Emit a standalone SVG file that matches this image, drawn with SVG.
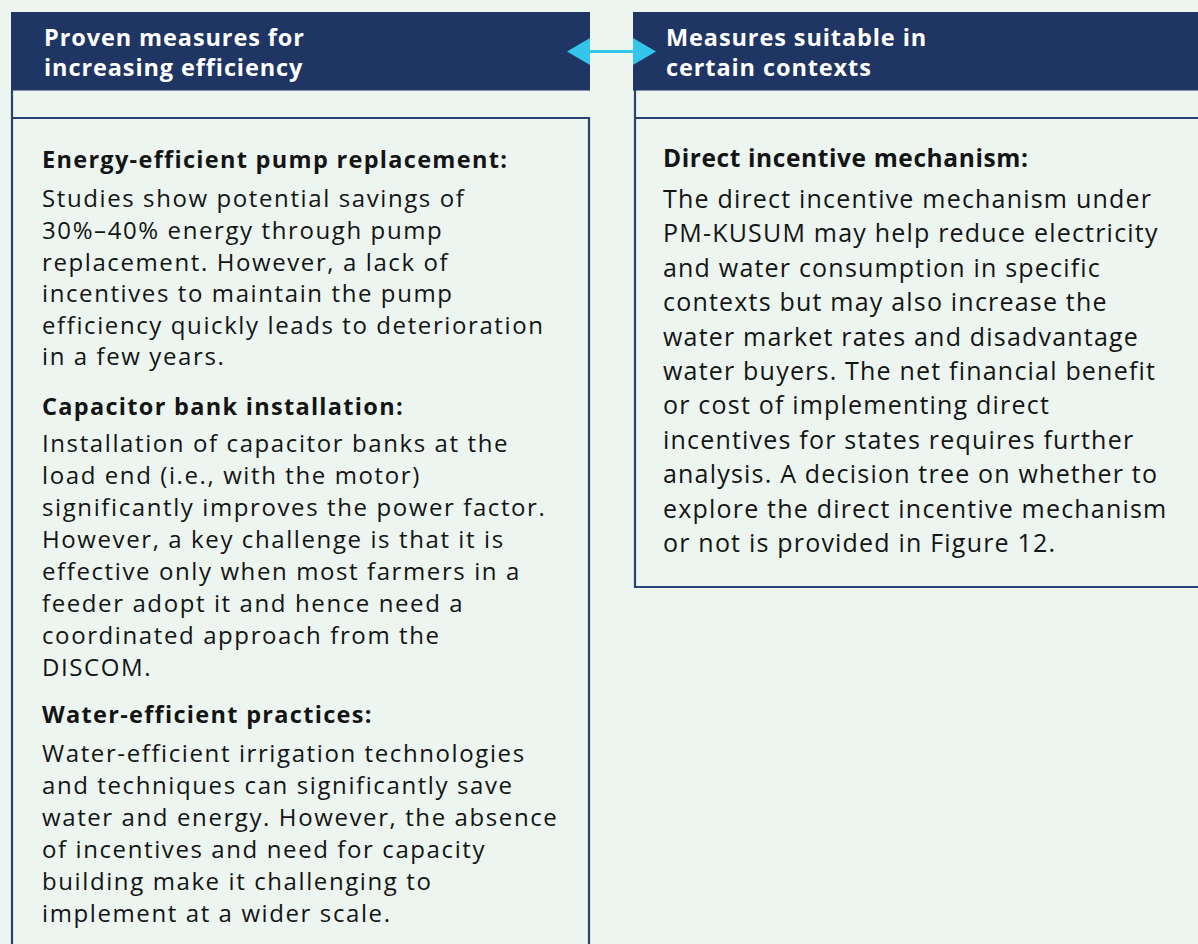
<svg xmlns="http://www.w3.org/2000/svg" width="1198" height="944" viewBox="0 0 1198 944">
<style>
.hdr{fill:#1F3563}
.hdrtxt{font-family:"Open Sans","Liberation Sans",sans-serif;font-weight:700;font-size:23.5px;fill:#FFFFFF;letter-spacing:0.9px}
.frame{fill:none;stroke:#2A4272;stroke-width:2.2}
.ttl{font-family:"Open Sans","Liberation Sans",sans-serif;font-weight:700;font-size:23.5px;fill:#141414;letter-spacing:1.3px}
.bod{font-family:"Open Sans","Liberation Sans",sans-serif;font-weight:400;font-size:24px;fill:#141414;letter-spacing:1.6px}
.ttlR{font-family:"Open Sans","Liberation Sans",sans-serif;font-weight:700;font-size:24.5px;fill:#141414;letter-spacing:0.6px}
.bodR{font-family:"Open Sans","Liberation Sans",sans-serif;font-weight:400;font-size:25px;fill:#141414;letter-spacing:1.2px}
.conn{stroke:#33C5EB;stroke-width:3;fill:none}
.head{fill:#33C5EB}
</style>
<rect x="0" y="0" width="1198" height="944" fill="#ECF5EF"/>

<g id="node-proven">
  <rect class="hdr" x="11" y="12" width="579" height="78.5"/>
  <text class="hdrtxt"><tspan x="44" y="45.5">Proven measures for</tspan><tspan x="44" y="75.5">increasing efficiency</tspan></text>
  <path class="frame" d="M12 90 V944 M12 118 H589 V944"/>
  <text class="ttl" x="42" y="168">Energy-efficient pump replacement:</text>
  <text class="bod">
    <tspan x="42" y="207">Studies show potential savings of</tspan>
    <tspan x="42" y="239">30%–40% energy through pump</tspan>
    <tspan x="42" y="270.5">replacement. However, a lack of</tspan>
    <tspan x="42" y="302">incentives to maintain the pump</tspan>
    <tspan x="42" y="333.5">efficiency quickly leads to deterioration</tspan>
    <tspan x="42" y="365">in a few years.</tspan>
  </text>
  <text class="ttl" x="42" y="415">Capacitor bank installation:</text>
  <text class="bod">
    <tspan x="42" y="452">Installation of capacitor banks at the</tspan>
    <tspan x="42" y="484">load end (i.e., with the motor)</tspan>
    <tspan x="42" y="516">significantly improves the power factor.</tspan>
    <tspan x="42" y="548">However, a key challenge is that it is</tspan>
    <tspan x="42" y="580">effective only when most farmers in a</tspan>
    <tspan x="42" y="612">feeder adopt it and hence need a</tspan>
    <tspan x="42" y="644">coordinated approach from the</tspan>
    <tspan x="42" y="676">DISCOM.</tspan>
  </text>
  <text class="ttl" x="42" y="723">Water-efficient practices:</text>
  <text class="bod">
    <tspan x="42" y="762">Water-efficient irrigation technologies</tspan>
    <tspan x="42" y="794">and techniques can significantly save</tspan>
    <tspan x="42" y="826">water and energy. However, the absence</tspan>
    <tspan x="42" y="858">of incentives and need for capacity</tspan>
    <tspan x="42" y="890">building make it challenging to</tspan>
    <tspan x="42" y="922">implement at a wider scale.</tspan>
  </text>
</g>

<g id="node-contextual">
  <rect class="hdr" x="633" y="12" width="565" height="78.5"/>
  <text class="hdrtxt"><tspan x="666" y="45.5">Measures suitable in</tspan><tspan x="666" y="75.5">certain contexts</tspan></text>
  <path class="frame" d="M635 90 V587 H1200 M635 118 H1200"/>
  <text class="ttlR" x="663" y="167">Direct incentive mechanism:</text>
  <text class="bodR">
    <tspan x="663" y="208">The direct incentive mechanism under</tspan>
    <tspan x="663" y="242.4">PM-KUSUM may help reduce electricity</tspan>
    <tspan x="663" y="276.8">and water consumption in specific</tspan>
    <tspan x="663" y="311.2">contexts but may also increase the</tspan>
    <tspan x="663" y="345.6">water market rates and disadvantage</tspan>
    <tspan x="663" y="380">water buyers. The net financial benefit</tspan>
    <tspan x="663" y="414.4">or cost of implementing direct</tspan>
    <tspan x="663" y="448.8">incentives for states requires further</tspan>
    <tspan x="663" y="483.2">analysis. A decision tree on whether to</tspan>
    <tspan x="663" y="517.6">explore the direct incentive mechanism</tspan>
    <tspan x="663" y="552">or not is provided in Figure 12.</tspan>
  </text>
</g>

<g id="connectors">
  <line class="conn" x1="585" y1="51.5" x2="638" y2="51.5"/>
  <polygon class="head" points="567,51.5 590,38 590,65"/>
  <polygon class="head" points="656,51.5 633,38 633,65"/>
</g>
</svg>
